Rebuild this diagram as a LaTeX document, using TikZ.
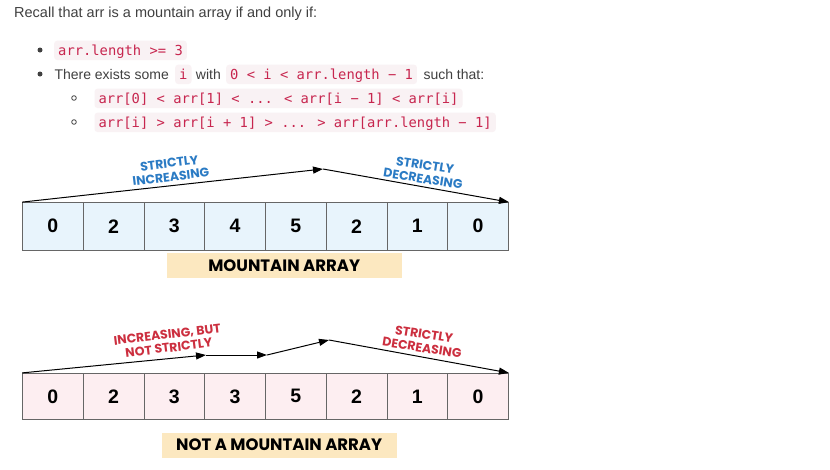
\documentclass[tikz,border=0pt]{standalone}
\usepackage{fontspec}
\setmainfont{Liberation Sans}
\newfontfamily\monofont{DejaVu Sans Mono}
\newfontfamily\comicfont{Poppins}
\usetikzlibrary{arrows.meta}
\definecolor{txt}{HTML}{404040}
\definecolor{codefg}{HTML}{C7254E}
\definecolor{codebg}{HTML}{F9F2F4}
\definecolor{cellblue}{HTML}{E8F4FC}
\definecolor{cellpink}{HTML}{FDEEF1}
\definecolor{cellline}{HTML}{666666}
\definecolor{labblue}{HTML}{2B7BC4}
\definecolor{labred}{HTML}{CC2F3F}
\definecolor{tagbg}{HTML}{FCE8C0}
\begin{document}
\begin{tikzpicture}[x=1pt,y=-1pt,
  plain/.style={anchor=base west, inner sep=0pt, text=txt, font=\fontsize{14}{16}\selectfont},
  code/.style={anchor=base west, inner xsep=4pt, inner ysep=0pt, text height=14.3pt, text depth=5pt, fill=codebg, rounded corners=3pt, text=codefg, font=\monofont\fontsize{13.8}{16}\selectfont},
  dotb/.style={circle, fill=txt, inner sep=0pt, minimum size=5pt},
  hdot/.style={circle, draw=txt, line width=0.8pt, inner sep=0pt, minimum size=4.6pt},
  cell/.style={draw=cellline, line width=0.8pt, minimum width=60.75pt, inner sep=0pt, font=\bfseries\fontsize{19.5}{20}\selectfont, text=black},
  arr/.style={line width=1pt, -{Triangle[length=10pt,width=7pt]}},
  lab/.style={align=center, inner sep=0pt, font=\comicfont\bfseries\fontsize{12.5}{13.5}\selectfont},
  tag/.style={fill=tagbg, minimum width=235pt, minimum height=25pt, inner sep=0pt, font=\comicfont\bfseries\fontsize{16.5}{18}\selectfont, text=black}
]
\fill[white] (0,0) rectangle (830,469);
\useasboundingbox (0,0) rectangle (830,469);

% intro text
\node[plain, font=\fontsize{14.5}{16}\selectfont] (intro) at (14,17.5) {Recall that arr is a mountain array if and only if:};
\node[dotb] (d1) at (40,50) {};
\node[code] (c1) at (54,55) {arr.length >= 3};
\node[dotb] (d2) at (40,74) {};
\node[plain] (t2a) at (54.3,79) {There exists some};
\node[code] (c2) at (175,79) {i};
\node[plain] (t2b) at (195.7,79) {with};
\node[code] (c3) at (226,79) {0 < i < arr.length − 1};
\node[plain] (t2c) at (423.3,79) {such that:};
\node[hdot] (d3) at (74,98) {};
\node[code] (c4) at (94.3,103) {arr[0] < arr[1] < ... < arr[i − 1] < arr[i]};
\node[hdot] (d4) at (74,122) {};
\node[code] (c5) at (94.3,127) {arr[i] > arr[i + 1] > ... > arr[arr.length − 1]};

% top array
\foreach \v [count=\i from 0] in {0,2,3,4,5,2,1,0}
  \node[cell, fill=cellblue, minimum height=47.5pt] (a\i) at ({22.5+60.75*(\i+0.5)},226.25) {\v};
\coordinate (pk1) at (323,169);
\draw[arr] (a0.north west) -- (pk1);
\draw[arr] (pk1) -- (a7.north east);
\node[lab, text=labblue, rotate=7] (l1) at (170,170) {STRICTLY\\INCREASING};
\node[lab, text=labblue, rotate=-9] (l2) at (424,172) {STRICTLY\\DECREASING};
\node[tag] (t1) at (284.2,265.5) {MOUNTAIN ARRAY};

% bottom array
\foreach \v [count=\i from 0] in {0,2,3,3,5,2,1,0}
  \node[cell, fill=cellpink, minimum height=46pt] (b\i) at ({22.5+60.75*(\i+0.5)},396.3) {\v};
\coordinate (p1) at (206,355);
\coordinate (p2) at (267,355);
\coordinate (p3) at (329,340);
\draw[arr] (b0.north west) -- (p1);
\draw[arr] (p1) -- (p2);
\draw[arr] (p2) -- (p3);
\draw[arr] (p3) -- (b7.north east);
\node[lab, text=labred, rotate=7] (l3) at (168,341) {INCREASING, BUT\\NOT STRICTLY};
\node[lab, text=labred, rotate=-9] (l4) at (423,341) {STRICTLY\\DECREASING};
\node[tag] (t2) at (279.2,445) {NOT A MOUNTAIN ARRAY};
\end{tikzpicture}
\end{document}
